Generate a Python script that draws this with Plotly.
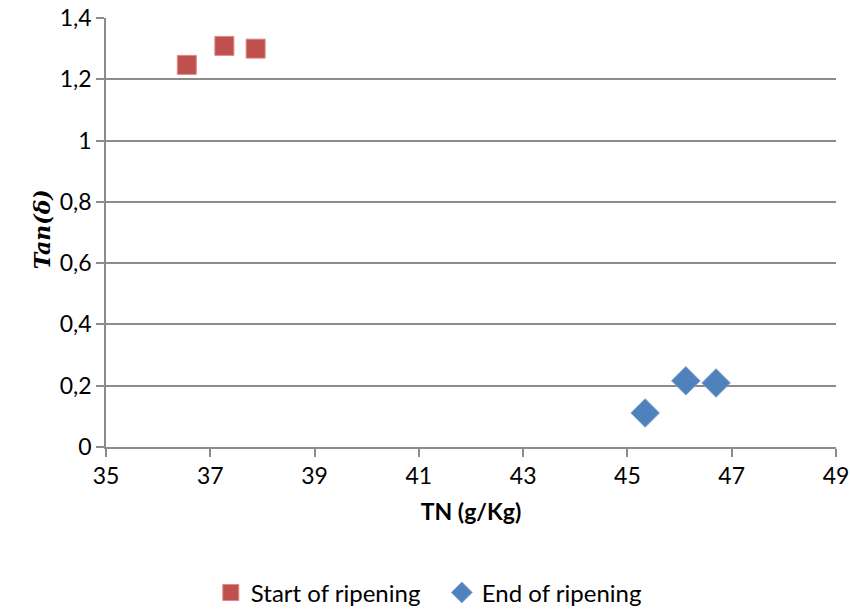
import plotly.graph_objects as go

start_tn = [36.55, 37.27, 37.87]
start_tan = [1.247, 1.309, 1.300]
end_tn = [45.34, 46.12, 46.70]
end_tan = [0.111, 0.216, 0.209]

FONT = "Lato, 'Open Sans', sans-serif"
GRID = "#8c8c8c"

fig = go.Figure()
fig.add_trace(go.Scatter(
    x=start_tn, y=start_tan, mode="markers", name="Start of ripening",
    marker=dict(symbol="square", size=19, color="#c0504d", line=dict(width=1, color="#d98c8a")),
))
fig.add_trace(go.Scatter(
    x=end_tn, y=end_tan, mode="markers", name="End of ripening",
    marker=dict(symbol="diamond", size=22, color="#4f81bd", line=dict(width=1, color="#7ea3d2")),
))

fig.update_layout(
    width=850, height=609,
    margin=dict(l=106, r=14, t=18, b=162, autoexpand=False),
    paper_bgcolor="white", plot_bgcolor="white",
    separators=",.",
    font=dict(family=FONT, size=23, color="#000000"),
    showlegend=True,
    legend=dict(orientation="h", x=0.46, xanchor="center", y=-0.34, yanchor="middle",
                font=dict(size=24), itemsizing="trace", traceorder="normal",
                itemwidth=30, entrywidth=186, tracegroupgap=0),
)
fig.update_xaxes(
    range=[35, 49], dtick=2, tick0=35, showgrid=False, zeroline=False,
    showline=True, linecolor=GRID, linewidth=1.5, automargin=False,
    ticks="outside", ticklen=8, tickcolor=GRID, tickwidth=1.5,
    title=dict(text="<b>TN (g/Kg)</b>", font=dict(size=23), standoff=16),
)
fig.update_yaxes(
    range=[0, 1.4], dtick=0.2, showgrid=True, gridcolor=GRID, gridwidth=1.5, zeroline=False,
    showline=True, linecolor=GRID, linewidth=1.5, automargin=False,
    ticks="outside", ticklen=8, tickcolor=GRID, tickwidth=1.5,
)
fig.add_annotation(
    text="<b><i>Tan(δ)</i></b>", xref="paper", yref="paper", x=-0.108, y=0.508,
    textangle=-90, showarrow=False, font=dict(family="'DejaVu Serif', serif", size=22),
)

# the page body has a default 8px margin; drop it so the figure sits at the corner
fig.write_html("out.html", config={"displayModeBar": False},
               post_script="document.body.style.margin='0';")
